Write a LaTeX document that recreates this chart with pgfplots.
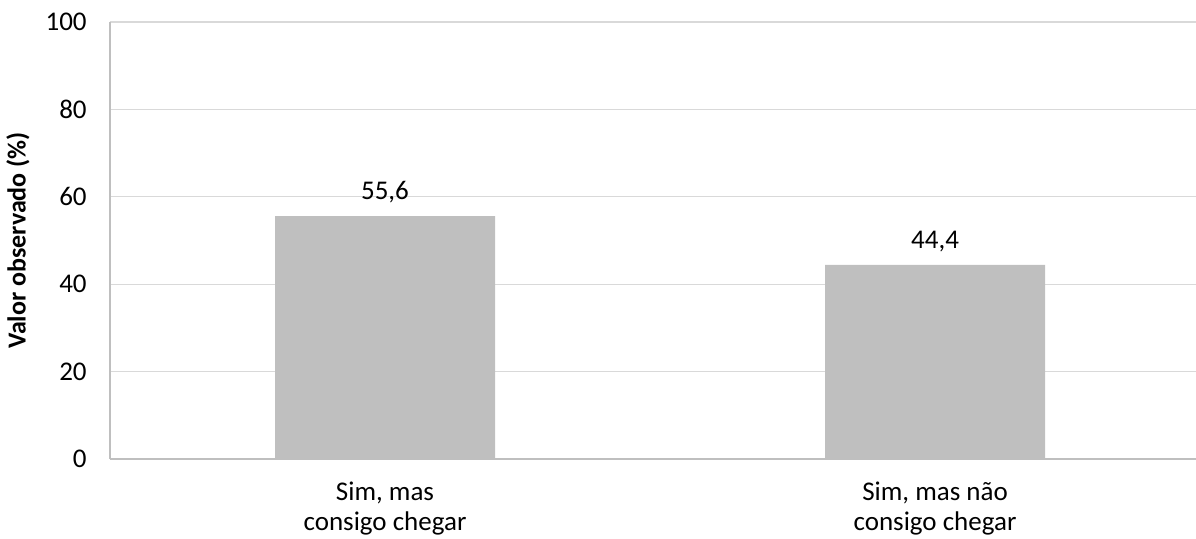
\documentclass[border=0pt]{standalone}
\usepackage{fontspec}
\setmainfont{Carlito}
\usepackage{pgfplots}
\pgfplotsset{compat=1.18}
\definecolor{barc}{HTML}{BFBFBF}
\definecolor{gridc}{HTML}{D9D9D9}
\definecolor{axc}{HTML}{BFBFBF}
\begin{document}
\begin{tikzpicture}
\useasboundingbox (-55pt,-39.5pt) rectangle (543pt,229.5pt);
\begin{axis}[
  at={(0,0)}, anchor=south west,
  scale only axis,
  width=543pt, height=218.5pt,
  xmin=-0.5, xmax=1.4745,
  ymin=0, ymax=100,
  axis x line=bottom, axis y line=left,
  axis line style={axc, line width=0.6pt, -},
  ytick={0,20,40,60,80,100},
  ymajorgrids, grid style={gridc, line width=0.6pt},
  major y tick style={draw=none},
  xtick={0,1},
  xticklabels={{Sim, mas\\consigo chegar},{Sim, mas não\\consigo chegar}},
  xticklabel style={align=center, font=\fontsize{13.5}{15}\selectfont, yshift=-6pt},
  major x tick style={draw=none},
  extra x ticks={-0.5,0.5},
  extra x tick labels={},
  extra x tick style={major tick length=3.5pt, tick style={draw=axc, line width=0.6pt}, tick align=outside},
  yticklabel style={font=\fontsize{13.5}{15}\selectfont, xshift=-6pt},
  /pgf/number format/assume math mode=true,
  ylabel={\bfseries Valor observado (\%)},
  ylabel style={font=\fontsize{13}{15}\selectfont, at={(axis description cs:-0.0847,0.5)}, anchor=center},
  nodes near coords,
  nodes near coords style={font=\fontsize{13.5}{15}\selectfont, yshift=3pt,
    /pgf/number format/use comma, /pgf/number format/fixed,
    /pgf/number format/fixed zerofill, /pgf/number format/precision=1},
  clip=false,
]
\addplot[ybar, bar width=0.4, fill=barc, draw=none] coordinates {(0,55.6) (1,44.4)};
\end{axis}
\end{tikzpicture}
\end{document}
